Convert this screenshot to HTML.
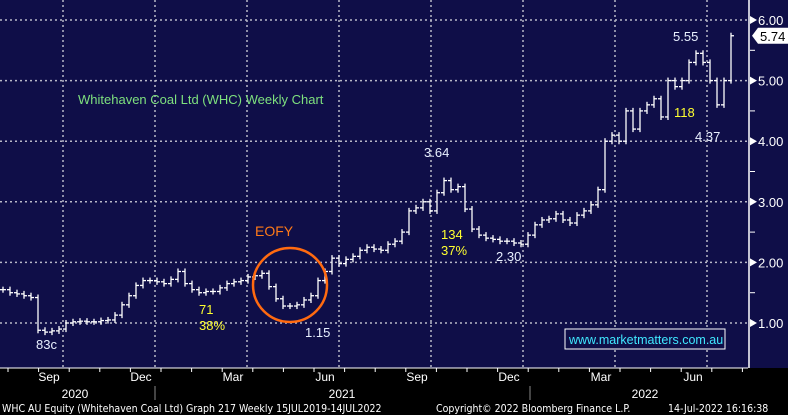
<!DOCTYPE html>
<html><head><meta charset="utf-8"><style>
html,body{margin:0;padding:0;background:#000;}
svg{display:block;font-family:"Liberation Sans",sans-serif;}
</style></head><body>
<svg width="788" height="415" xmlns="http://www.w3.org/2000/svg">
<rect x="0" y="0" width="788" height="368" fill="#0f0e48"/>
<rect x="0" y="368" width="788" height="47" fill="#000"/>
<g id="grid"></g>
<g id="bars"></g>
<g id="yaxis"></g>
<g id="xaxis"></g>
<text x="78" y="104" fill="#7ee07e" font-size="13">Whitehaven Coal Ltd (WHC) Weekly Chart</text>
<circle cx="290" cy="285" r="37" fill="none" stroke="#ff6a10" stroke-width="2.5"/>
<text x="255" y="236" fill="#ff7a18" font-size="14">EOFY</text>
<g font-size="13">
<text x="36" y="349" fill="#e8f0ff">83c</text>
<text x="305" y="337" fill="#e8f0ff">1.15</text>
<text x="199" y="314" fill="#ffff30">71</text>
<text x="199" y="330" fill="#ffff30">38%</text>
<text x="424" y="157" fill="#e8f0ff">3.64</text>
<text x="441" y="239" fill="#ffff30">134</text>
<text x="441" y="255" fill="#ffff30">37%</text>
<text x="496" y="261" fill="#e8f0ff">2.30</text>
<text x="673" y="41" fill="#e8f0ff">5.55</text>
<text x="674" y="117" fill="#ffff30">118</text>
<text x="695" y="141" fill="#e8f0ff">4.37</text>
</g>
<rect x="565" y="329" width="160" height="20" fill="#0f0e48" stroke="#fff" stroke-width="1"/>
<text x="569" y="344" fill="#40e8ff" font-size="12.5">www.marketmatters.com.au</text>
<g font-size="10.5" fill="#fff" font-family="'DejaVu Sans Condensed','Liberation Sans Narrow',sans-serif">
<text x="2" y="412">WHC AU Equity (Whitehaven Coal Ltd) Graph 217  Weekly 15JUL2019-14JUL2022</text>
<text x="436" y="412">Copyright© 2022 Bloomberg Finance L.P.</text>
<text x="668" y="412">14-Jul-2022 16:16:38</text>
</g>
</svg>
<script>
const closes=[1.55,1.5,1.48,1.45,1.42,0.88,0.85,0.87,0.90,1.0,1.02,1.03,1.02,1.02,1.04,1.05,1.13,1.3,1.45,1.62,1.7,1.7,1.68,1.65,1.72,1.85,1.65,1.55,1.5,1.52,1.52,1.58,1.65,1.68,1.7,1.76,1.78,1.82,1.6,1.4,1.28,1.28,1.3,1.38,1.45,1.7,1.85,2.07,1.98,2.05,2.1,2.2,2.25,2.22,2.2,2.3,2.35,2.5,2.85,2.9,3.0,2.85,3.15,3.35,3.2,3.25,2.88,2.55,2.45,2.4,2.38,2.35,2.35,2.32,2.3,2.45,2.62,2.7,2.72,2.8,2.7,2.65,2.78,2.85,2.95,3.2,4.0,4.1,4.0,4.5,4.2,4.5,4.6,4.7,4.4,5.0,4.9,5.0,5.3,5.45,5.3,5.0,4.6,5.0,5.74];
const yTicks=[1,2,3,4,5,6];
const yTickLabels=["1.00","2.00","3.00","4.00","5.00","6.00"];
const months=["Sep","Dec","Mar","Jun","Sep","Dec","Mar","Jun"];
const years=["2020","2021","2022"];
const lastPrice=5.74;
const NS="http://www.w3.org/2000/svg";
function yS(v){return 20+(6-v)*60.6;}
function xS(i){return 3+i*(731-3)/(closes.length-1);}
function mk(t,a,p){const e=document.createElementNS(NS,t);for(const k in a)e.setAttribute(k,a[k]);p.appendChild(e);return e;}
const grid=document.getElementById('grid'),bars=document.getElementById('bars'),ya=document.getElementById('yaxis'),xa=document.getElementById('xaxis');
yTicks.forEach((v,i)=>{
 const g=mk('line',{x1:0,x2:748,y1:yS(v),y2:yS(v),stroke:'#b8b8c8','stroke-width':1.5,'stroke-dasharray':'2 3'},grid);
 
 
 mk('path',{d:`M750 ${yS(v)-4}L757 ${yS(v)}L750 ${yS(v)+4}Z`,fill:'#fff'},ya);
 const t=mk('text',{x:758,y:yS(v)+5,fill:'#fff','font-size':13},ya);t.textContent=yTickLabels[i];
 
 
 if(v<6) mk('line',{x1:750,x2:755,y1:yS(v+0.5),y2:yS(v+0.5),stroke:'#fff'},ya);
});
mk('line',{x1:749,x2:749,y1:0,y2:368,stroke:'#fff','stroke-width':1.5},ya);
const ly=yS(lastPrice);
mk('path',{d:`M752 ${ly}L758 ${ly-8}H788V${ly+8}H758Z`,fill:'#fff'},ya);
const lt=mk('text',{x:760,y:ly+5,fill:'#000','font-size':13},ya);lt.textContent=lastPrice.toFixed(2);


for(let k=0;k<8;k++){
 const x=63+k*92;
 mk('line',{x1:x,x2:x,y1:0,y2:368,stroke:'#b8b8c8','stroke-width':1.5,'stroke-dasharray':'2 3'},grid);
 const t=mk('text',{x:x-14,y:381,fill:'#fff','font-size':12,'text-anchor':'middle'},xa);t.textContent=months[k];
 
 
}
for(let x=8;x<745;x+=30.6) mk('line',{x1:x,x2:x,y1:368,y2:372,stroke:'#fff'},xa);
mk('line',{x1:0,x2:748,y1:368,y2:368,stroke:'#fff'},xa);
[[75,years[0]],[342,years[1]],[645,years[2]]].forEach(a=>{const t=mk('text',{x:a[0],y:398,fill:'#fff','font-size':12,'text-anchor':'middle'},xa);t.textContent=a[1];
 
 });
mk('line',{x1:155,x2:155,y1:386,y2:400,stroke:'#888'},xa);
mk('line',{x1:530,x2:530,y1:386,y2:400,stroke:'#888'},xa);
closes.forEach((c,i)=>{
 const o=i?closes[i-1]:c;const hi=Math.max(o,c)+0.05,lo=Math.min(o,c)-0.05;const x=xS(i);
 const g=mk('g',{stroke:'#fff','stroke-width':1.3},bars);
 
 
 mk('line',{x1:x,x2:x,y1:yS(hi),y2:yS(lo)},g);
 mk('line',{x1:x-3,x2:x,y1:yS(o),y2:yS(o)},g);
 mk('line',{x1:x,x2:x+3,y1:yS(c),y2:yS(c)},g);
});
</script>
</body></html>
